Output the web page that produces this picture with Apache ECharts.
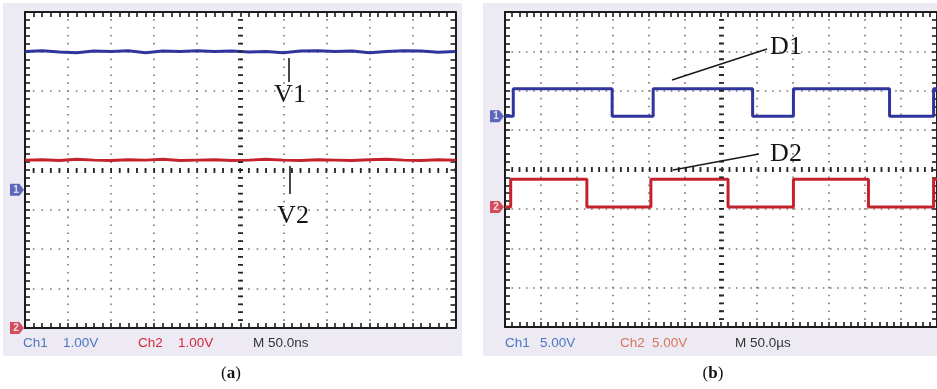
<!DOCTYPE html>
<html><head><meta charset="utf-8">
<script src="https://cdn.jsdelivr.net/npm/echarts@6/dist/echarts.min.js"></script>
<style>html,body{margin:0;padding:0;background:#fff}#c{width:937px;height:389px}</style>
</head><body><div id="c"></div>
<script>
// ---------- Panel (a): DC outputs, Ch1 1.00 V/div, Ch2 1.00 V/div, M 50.0 ns ----------
const timeA = [0,20,40,60,80,100,120,140,160,180,200,220,240,260,280,300,320,340,360,380,400,420,440,460,480,500]; // ns
const v1 = [3.50,3.52,3.49,3.47,3.51,3.50,3.52,3.47,3.51,3.50,3.52,3.50,3.51,3.49,3.50,3.47,3.51,3.52,3.50,3.51,3.47,3.50,3.52,3.51,3.48,3.50]; // V
const v2 = [4.25,4.26,4.24,4.27,4.25,4.24,4.26,4.25,4.27,4.24,4.25,4.26,4.24,4.25,4.27,4.25,4.24,4.26,4.25,4.24,4.26,4.27,4.25,4.24,4.26,4.25]; // V
// ---------- Panel (b): gate drive pulses, Ch1 5.00 V/div, Ch2 5.00 V/div, M 50.0 µs ----------
const d1Time  = [0, 11.5, 148.8, 205.8, 343.9, 400.6, 534.1, 595.3, 600]; // µs, edge times
const d1Level = [0, 3.5,  0,     3.5,   0,     3.5,   0,     3.5,   3.5]; // V after each edge
const d2Time  = [0, 7.9, 113.7, 202.6, 309.8, 400.6, 504.8, 595.3, 600];
const d2Level = [0, 3.5, 0,     3.5,   0,     3.5,   0,     3.5,   3.5];
// screen labels
const footA = ['Ch1', '1.00V', 'Ch2', '1.00V', 'M 50.0ns'];
const footB = ['Ch1', '5.00V', 'Ch2', '5.00V', 'M 50.0\u00b5s'];
const annot = ['V1', 'V2', 'D1', 'D2'];
const captions = ['a', 'b'];

const pair = (xs, ys) => xs.map((x, i) => [x, ys[i]]);

const BLUE = '#30359e', RED = '#c4232d', BORDER = '#1c1c1c', DOT = '#7d7672';
const gA = {left: 25, top: 12, width: 430.5, height: 316};
const gB = {left: 505, top: 12, width: 434.4, height: 315};
const hdivA = gA.width / 10, vdivA = gA.height / 8;
const hdivB = gB.width / 12, vdivB = gB.height / 8;

function divAxis(gi, pos, min, max, gap, split) {
  return {
    type: 'value', gridIndex: gi, position: pos, min: min, max: max, interval: 1,
    axisLine: {show: true, onZero: false, lineStyle: {color: BORDER, width: 2}},
    axisTick: {show: true, inside: true, length: 5, lineStyle: {color: BORDER, width: 1.6}},
    minorTick: {show: true, splitNumber: 5, length: 5, lineStyle: {color: BORDER, width: 1.6}},
    axisLabel: {show: false},
    splitLine: {show: split, lineStyle: {color: DOT, width: 1.6, type: [1.6, gap - 1.6], dashOffset: 0.8}}
  };
}
function hidden(gi, min, max) {
  return {type: 'value', gridIndex: gi, min: min, max: max, show: false, splitLine: {show: false}};
}

const flagPath = 'path://M0,0 L8,0 L12,5 L8,10 L0,10 Z';
function flag(xi, yi, num, color) {
  return {
    type: 'scatter', xAxisIndex: xi, yAxisIndex: yi, data: [[0, 0]], clip: false, silent: true,
    symbol: flagPath, symbolSize: [14, 12], symbolOffset: [-8, 0],
    itemStyle: {color: color},
    label: {show: true, position: 'inside', formatter: num, color: '#fff', fontSize: 10, fontWeight: 'bold',
      fontFamily: 'Liberation Sans', offset: [-1, 0]},
    z: 5
  };
}
// centre graticule lines (thick tick combs)
function centerCross(xi, yi, cx, hdiv, vdiv) {
  return {
    type: 'line', xAxisIndex: xi, yAxisIndex: yi, data: [], silent: true,
    markLine: {
      symbol: ['none', 'none'], silent: true, label: {show: false}, animation: false,
      data: [
        {yAxis: 0, lineStyle: {color: '#262626', width: 5, type: [1.8, hdiv / 5 - 1.8], dashOffset: 0.9}},
        {xAxis: cx, lineStyle: {color: '#262626', width: 5, type: [1.8, vdiv / 5 - 1.8], dashOffset: 0.9}}
      ]
    }
  };
}
function trace(xi, yi, data, color, step) {
  return {type: 'line', xAxisIndex: xi, yAxisIndex: yi, data: data, step: step || false,
    showSymbol: false, symbol: 'none', silent: true, z: 4,
    lineStyle: {color: color, width: 3}};
}

const serif = 'Liberation Serif';
function label(txt, x, y) {
  return {type: 'text', x: x, y: y, z: 20, silent: true,
    style: {text: txt, font: '26px "Liberation Serif"', fill: '#151515', align: 'center', verticalAlign: 'middle'}};
}
function lead(x1, y1, x2, y2) {
  return {type: 'line', z: 20, silent: true, shape: {x1: x1, y1: y1, x2: x2, y2: y2},
    style: {stroke: '#1a1a1a', lineWidth: 1.6}};
}
function foot(items, xs, colors) {
  return items.map((t, i) => ({type: 'text', x: xs[i], y: 343, z: 20, silent: true,
    style: {text: t, font: '13.5px "Liberation Sans"', fill: colors[i], verticalAlign: 'middle'}}));
}
function caption(letter, x) {
  return {type: 'text', x: x, y: 374, silent: true,
    style: {text: '{n|(}{b|' + letter + '}{n|)}', align: 'center', verticalAlign: 'middle',
      rich: {n: {fontFamily: serif, fontSize: 17, fill: '#111'}, b: {fontFamily: serif, fontSize: 17, fontWeight: 'bold', fill: '#111'}}}};
}

const chart = echarts.init(document.getElementById('c'), null, {renderer: 'canvas'});
chart.setOption({
  animation: false,
  backgroundColor: '#ffffff',
  grid: [
    Object.assign({backgroundColor: '#ffffff', show: true, borderWidth: 0}, gA),
    Object.assign({backgroundColor: '#ffffff', show: true, borderWidth: 0}, gB)
  ],
  xAxis: [
    divAxis(0, 'bottom', 0, 10, vdivA / 5, true),
    divAxis(0, 'top', 0, 10, vdivA / 5, false),
    hidden(0, 0, 500),
    divAxis(1, 'bottom', 0, 12, vdivB / 5, true),
    divAxis(1, 'top', 0, 12, vdivB / 5, false),
    hidden(1, 0, 600)
  ],
  yAxis: [
    divAxis(0, 'left', -4, 4, hdivA / 5, true),
    divAxis(0, 'right', -4, 4, hdivA / 5, false),
    hidden(0, -3.5, 4.5),
    hidden(0, 0, 8),
    divAxis(1, 'left', -4, 4, hdivB / 5, true),
    divAxis(1, 'right', -4, 4, hdivB / 5, false),
    hidden(1, -26.75, 13.25),
    hidden(1, -15.25, 24.75)
  ],
  graphic: [
    {type: 'rect', z: -10, silent: true, shape: {x: 3, y: 3, width: 459, height: 353}, style: {fill: '#eeeaf4'}},
    {type: 'rect', z: -10, silent: true, shape: {x: 483, y: 3, width: 454, height: 353}, style: {fill: '#eeeaf4'}},
    lead(289, 58, 289, 82), label(annot[0], 290, 95),
    lead(290, 166, 290, 194), label(annot[1], 293, 216),
    lead(672, 80, 767, 49), label(annot[2], 786, 47),
    lead(673, 170, 759, 154), label(annot[3], 786, 154),
    ...foot(footA, [23, 63, 138, 178, 253], ['#4a79c2', '#4a79c2', '#d4283e', '#d4283e', '#333333']),
    ...foot(footB, [505, 540, 620, 652, 735], ['#4a79c2', '#4a79c2', '#d9765c', '#d9765c', '#333333']),
    caption(captions[0], 231), caption(captions[1], 713)
  ],
  series: [
    centerCross(0, 0, 5, hdivA, vdivA),
    centerCross(3, 4, 6, hdivB, vdivB),
    trace(2, 2, pair(timeA, v1), BLUE),
    trace(2, 3, pair(timeA, v2), RED),
    trace(5, 6, pair(d1Time, d1Level), BLUE, 'end'),
    trace(5, 7, pair(d2Time, d2Level), RED, 'end'),
    flag(2, 2, '1', '#3546ad'),
    flag(2, 3, '2', '#cc2636'),
    flag(5, 6, '1', '#3546ad'),
    flag(5, 7, '2', '#cc2636')
  ]
});
</script>
</body></html>
